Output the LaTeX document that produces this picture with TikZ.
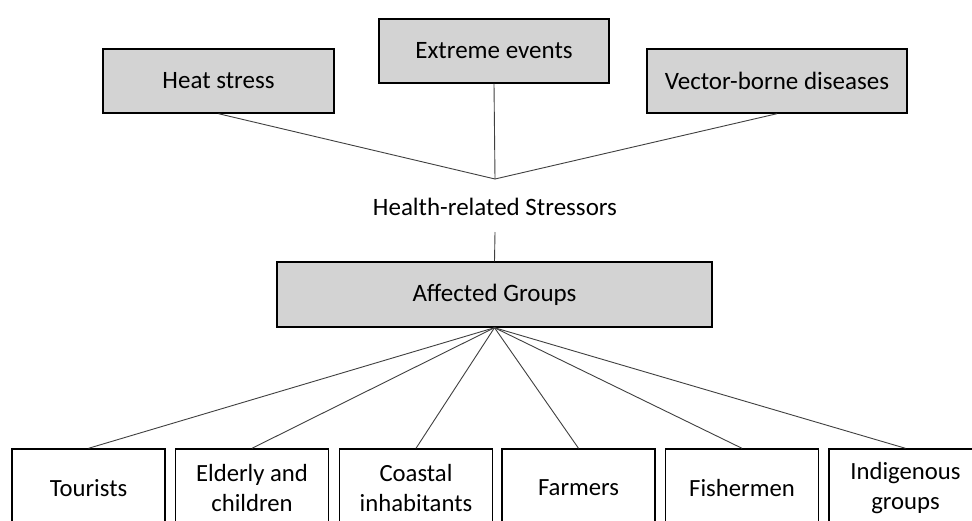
\documentclass[tikz,border=0pt]{standalone}
\usepackage{fontspec}
\setmainfont{Carlito}
\definecolor{boxgray}{HTML}{D3D3D3}
\definecolor{linegray}{HTML}{404040}
\begin{document}
\begin{tikzpicture}[x=1pt,y=-1pt,
  graybox/.style={draw=black, line width=1.4pt, fill=boxgray, inner sep=0pt, align=center, font=\fontsize{25}{30}\selectfont},
  whitebox/.style={draw=black, line width=1.4pt, fill=white, inner sep=0pt, align=center, minimum width=153pt, minimum height=78pt, font=\fontsize{24.7}{30}\selectfont},
  conn/.style={draw=linegray, line width=0.9pt}]
\clip (0,0) rectangle (972,520);
\fill[white] (0,0) rectangle (972,520);
% top boxes
\node[graybox, minimum width=231pt, minimum height=64pt] (hs) at (218.5,81) {Heat stress};
\node[graybox, minimum width=230pt, minimum height=64pt] (ee) at (494,51) {Extreme events};
\node[graybox, minimum width=260pt, minimum height=64pt] (vb) at (777,81) {Vector-borne diseases};
\coordinate (conv) at (495,179);
\node[font=\fontsize{25}{30}\selectfont, inner sep=0pt] (hrs) at (495,207) {Health-related Stressors};
\coordinate (hrstop) at (495,232);
\node[graybox, minimum width=435pt, minimum height=65pt] (ag) at (494.5,294.5) {Affected Groups};
% bottom boxes
\node[whitebox] (t1) at (88.5,488) {Tourists};
\node[whitebox] (t2) at (252,488) {Elderly and\\children};
\node[whitebox] (t3) at (416,488) {Coastal\\inhabitants};
\node[whitebox] (t4) at (578.5,488) {Farmers};
\node[whitebox] (t5) at (742,488) {Fishermen};
\node[whitebox] (t6) at (905.5,488) {Indigenous\\groups};
% connectors
\draw[conn] (hs.south) -- (conv);
\draw[conn] (ee.south) -- (conv);
\draw[conn] (vb.south) -- (conv);
\draw[conn] (hrstop) -- (ag.north);
\foreach \n in {t1,t2,t3,t4,t5,t6} \draw[conn] (ag.south) -- (\n.north);
\end{tikzpicture}
\end{document}
